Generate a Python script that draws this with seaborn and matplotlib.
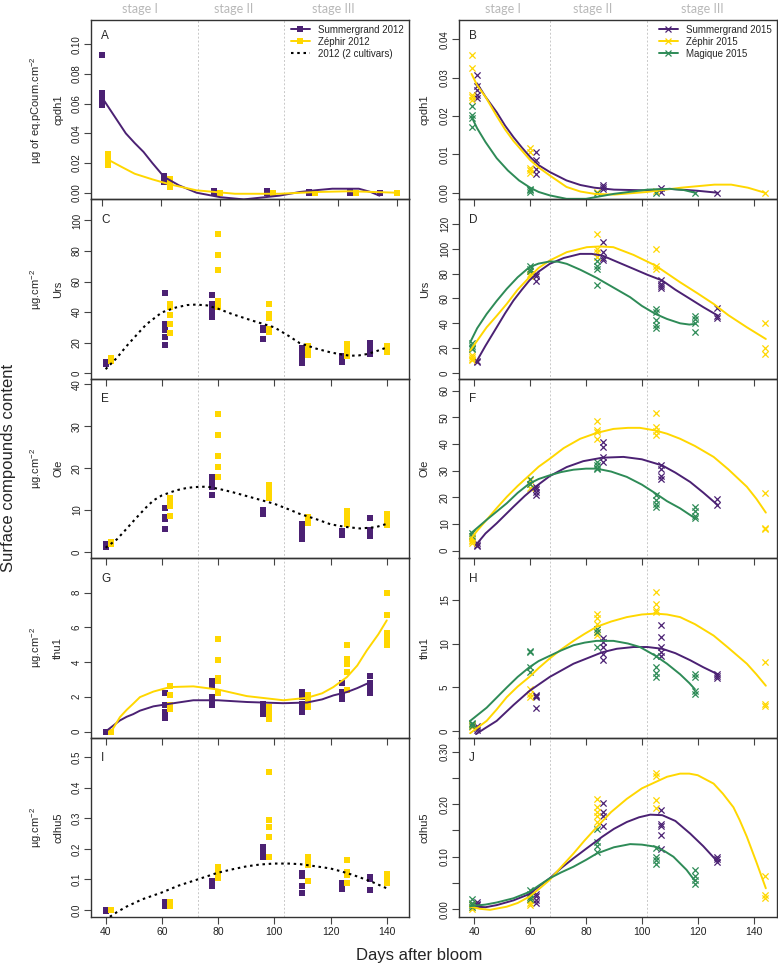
import numpy as np
import pandas as pd
import matplotlib
matplotlib.use("Agg")
import matplotlib.pyplot as plt
import matplotlib.transforms as mtransforms
from matplotlib.lines import Line2D
import seaborn as sns

# ---------------- sampling days ----------------
days_sg12 = [40, 61, 78, 96, 110, 124, 134]
days_ze12 = [42, 63, 80, 98, 112, 126, 140]
days_sg15 = [41, 62, 86, 107, 127]
days_ze15 = [39, 60, 84, 105, 144]
days_ma15 = [39, 60, 84, 105, 119]

# ---------------- cpdh1 ----------------
cpdh1_sg12 = [[0.093, 0.067, 0.063, 0.061, 0.059], [0.011, 0.010, 0.009, 0.008, 0.007],
              [0.001, 0.0], [0.001, 0.0], [0.0003, 0.0], [0.001, 0.0], [0.0, -0.0005]]
cpdh1_ze12 = [[0.026, 0.024, 0.022, 0.021, 0.019], [0.009, 0.008, 0.006, 0.005, 0.004],
              [0.0, 0.0], [0.0], [0.0], [0.0], [0.0]]
cpdh1_sg12_fit_x = [40, 42, 44, 46, 48, 51, 54, 57, 61, 66, 72, 80, 88, 100, 107, 113, 118, 127, 131, 134]
cpdh1_sg12_fit_y = [0.064, 0.058, 0.052, 0.046, 0.040, 0.0335, 0.0275, 0.020, 0.0106, 0.005, 0.0,
                    -0.003, -0.0045, -0.002, 0.0005, 0.0018, 0.0027, 0.0027, 0.0005, -0.002]
cpdh1_ze12_fit_x = [42, 46, 51, 57, 63, 72, 85, 100, 113, 124, 140]
cpdh1_ze12_fit_y = [0.0223, 0.018, 0.0128, 0.009, 0.0056, 0.0016, -0.0007, -0.0007, 0.0005, 0.001, 0.0]

cpdh1_sg15 = [[0.0307, 0.0278, 0.0267, 0.0254, 0.0246], [0.0106, 0.0085, 0.0063, 0.005],
              [0.0021, 0.0015, 0.0009], [0.0012, 0.0002], [0.0]]
cpdh1_ze15 = [[0.036, 0.0325, 0.0255, 0.0241, 0.025], [0.0117, 0.0106, 0.0064, 0.0058, 0.0051],
              [0.0003], [0.0005], [0.0]]
cpdh1_ma15 = [[0.0226, 0.0202, 0.0196, 0.0172], [0.001, 0.0006, 0.0002], [0.0], [0.0], [0.0]]
cpdh1_sg15_fit_x = [41, 44, 48, 51, 54, 57, 60, 63, 67, 73, 78, 83, 90, 102, 110, 120, 127]
cpdh1_sg15_fit_y = [0.0285, 0.025, 0.021, 0.0175, 0.0145, 0.0118, 0.0093, 0.0072, 0.0054, 0.0032,
                    0.002, 0.0013, 0.0008, 0.0006, 0.001, 0.0005, 0.0]
cpdh1_ze15_fit_x = [39, 41, 44, 48, 51, 54, 57, 60, 63, 67, 73, 78, 83, 90, 102, 114, 126, 132, 138, 144]
cpdh1_ze15_fit_y = [0.031, 0.028, 0.025, 0.020, 0.0165, 0.0135, 0.011, 0.0085, 0.0066, 0.0045,
                    0.0015, 0.0003, -0.0003, -0.0005, 0.0002, 0.0013, 0.0021, 0.0021, 0.0013, 0.0]
cpdh1_ma15_fit_x = [39, 41, 44, 48, 52, 56, 60, 63, 67, 73, 80, 90, 102, 110, 115, 119]
cpdh1_ma15_fit_y = [0.0198, 0.0168, 0.0132, 0.009, 0.0058, 0.0032, 0.0013, 0.0002, -0.0007,
                    -0.0016, -0.0016, -0.0003, 0.0008, 0.001, 0.0007, 0.0]

# ---------------- Urs ----------------
urs_sg12 = [[7, 6.5, 6], [52.5, 32.5, 28, 24, 18.5], [51, 45, 43, 40, 36.5], [29.5, 28, 22.5],
            [16.5, 14, 11, 8.5, 6.5], [11.5, 9, 7.5], [20, 17, 15, 12.5]]
urs_ze12 = [[10, 9, 8], [45, 43, 38, 32.5, 26], [91, 77.5, 67.5, 47, 43.5], [45, 39, 36, 29, 27],
            [18, 16, 14, 12], [19, 16.5, 14, 11.5], [17.5, 15.5, 14]]
urs_2012_fit_x = [40, 44, 47, 51, 54.5, 60, 65, 69, 72, 76, 80, 85, 92, 100, 105, 109, 115, 120,
                  124, 127, 130, 133, 136, 140]
urs_2012_fit_y = [2.6, 10, 16.8, 25, 32, 39.8, 43, 44.6, 44.9, 44.4, 42.2, 38.7, 34.5, 30, 24.5,
                  19.7, 16, 13.6, 12.2, 11.4, 11.6, 12.5, 14.2, 16.8]

urs_sg15 = [[10, 9], [80, 78, 74], [105, 97, 92.5, 91], [74.5, 72, 70, 68.5], [52, 46, 44.5]]
urs_ze15 = [[14.5, 13, 11.5, 10.5], [82, 80, 78], [112, 100, 97, 93], [100, 86, 84], [40, 20, 15]]
urs_ma15 = [[24, 22, 20, 19], [86, 84, 82], [90, 86, 84, 71], [51.5, 49, 43, 38.5, 36],
            [46, 43.5, 40, 33]]
urs_sg15_fit_x = [40.6, 44, 48, 51, 54, 57, 59.7, 63, 67, 72, 77.9, 82, 85.8, 91, 97, 102, 107.3,
                  112, 117.3, 122, 127.2]
urs_sg15_fit_y = [8.6, 22, 36.8, 48, 58.3, 67, 74.4, 81.5, 87.8, 92.5, 95.8, 95.8, 94.5, 89.5,
                  83.8, 79, 74.4, 67, 59.6, 53, 46.2]
urs_ze15_fit_x = [38.5, 41, 44.4, 48, 51.6, 55.5, 59.7, 63, 67, 73.1, 80.3, 85, 89.8, 97, 104.9,
                  113.7, 120, 125.7, 131, 137.6, 144.4]
urs_ze15_fit_y = [18, 26, 36.8, 46, 55.6, 67, 77, 84.5, 90.5, 97.2, 101.2, 101.8, 101.2, 95, 86.4,
                  73, 64, 55.6, 46.5, 36.8, 27.4]
urs_ma15_fit_x = [38.5, 41, 44.4, 48, 51.6, 55.5, 59.7, 63, 67, 70, 73.1, 78, 83.8, 90, 95.8,
                  100, 104.9, 109, 113.7, 117, 119]
urs_ma15_fit_y = [24.7, 36, 47.5, 58, 67.7, 77, 85.1, 88, 89.7, 89.5, 87.8, 83, 76.5, 68.5, 61,
                  54, 47.5, 43.5, 40, 39, 39.5]

# ---------------- Ole ----------------
ole_sg12 = [[2, 1.5, 1.2], [10.5, 8.3, 7.8, 5.5], [18, 16.5, 15.5, 13.7], [10, 9.5, 9],
            [6.7, 5.5, 4, 3.2], [5, 4], [8, 5.2, 4.5, 3.8]]
ole_ze12 = [[2.4, 2], [13, 12, 11, 8.5], [33, 28, 22.8, 20.2, 18], [16, 15, 14, 13],
            [8.3, 7.5, 6.8], [9.8, 8.5, 7.5, 6.7], [9, 8, 7, 6.4]]
ole_2012_fit_x = [40, 44, 47, 51, 54.5, 57, 60, 65, 69, 72, 76, 80, 85, 92, 100, 105, 109, 115,
                  120, 125, 130.5, 136, 140]
ole_2012_fit_y = [1.0, 3.0, 5.2, 8.2, 10.7, 12.3, 13.5, 14.7, 15.3, 15.5, 15.6, 15.1, 14.3, 13,
                  11.5, 10.2, 9.1, 7.8, 6.6, 6.0, 5.6, 5.9, 6.7]

ole_sg15 = [[3, 2.2, 1.6], [24, 23, 22, 21], [40.7, 39, 35, 33.3], [32, 30.8, 28, 27], [19.5, 17]]
ole_ze15 = [[4.8, 4, 3.5, 3], [26.5, 25, 23.5], [48.5, 45.3, 44.7, 42], [51.5, 46.5, 45, 43.5],
            [21.7, 8.5, 8]]
ole_ma15 = [[6.5, 5.5], [27, 25], [33.3, 32, 31, 30.5], [21, 19, 17.5, 16.5], [16.5, 15, 13, 12.2]]
ole_sg15_fit_x = [40.6, 44, 48, 54, 58, 61.9, 67, 73.1, 79, 85.8, 93.4, 100, 107.3, 112, 117.3,
                  122, 127.2]
ole_sg15_fit_y = [2.2, 6.5, 10.3, 16.5, 20.5, 24, 28, 31.4, 33.6, 34.9, 35.2, 34.3, 32.0, 29.3,
                  25.8, 21.8, 17.1]
ole_ze15_fit_x = [38.5, 41, 44.4, 48, 51.6, 55.5, 59.7, 63, 67, 72, 77.9, 83.8, 89.8, 95, 99.3,
                  104.9, 109, 113.7, 119, 125.7, 131, 137.6, 141, 144.4]
ole_ze15_fit_y = [4.1, 7.5, 11.6, 16, 20.2, 24.3, 28.3, 31.5, 34.5, 38.5, 42, 44.2, 45.7, 46.1,
                  46.1, 45.1, 43.9, 42, 39.3, 35.2, 30.5, 24, 19.5, 14.3]
ole_ma15_fit_x = [38.5, 44.4, 51.6, 55.5, 59.7, 63, 67, 71, 75.5, 80, 83.8, 89, 94.6, 100,
                  104.9, 109, 113.7, 117, 119]
ole_ma15_fit_y = [6.3, 11.6, 17.8, 21.7, 25.2, 26.9, 28.3, 29.5, 30.4, 30.8, 30.8, 29.7, 27.7,
                  24.8, 21.5, 18.6, 15.9, 13.6, 12.2]

# ---------------- thu1 ----------------
thu1_sg12 = [[0.0, 0.0], [2.2, 1.5, 1.1, 0.8], [2.9, 2.6, 2.0, 1.7, 1.5], [1.6, 1.4, 1.2, 1.0],
             [2.3, 2.0, 1.6, 1.3, 1.1], [2.8, 2.3, 2.1, 1.9], [3.2, 2.8, 2.5, 2.2]]
thu1_ze12 = [[0.0, -0.05], [2.6, 2.1, 1.5, 1.3], [5.3, 4.1, 3.1, 2.9, 2.2], [1.4, 1.1, 0.9, 0.7],
             [2.1, 1.9, 1.6, 1.4], [5.0, 4.2, 3.9, 3.4, 2.4], [8, 6.7, 5.7, 5.3, 5.0]]
thu1_sg12_fit_x = [40, 42, 45, 47.5, 49.8, 52.2, 57, 62.9, 71.2, 79.9, 90.2, 103.2, 111.6, 117,
                   121, 125.8, 129.5, 132.9, 134]
thu1_sg12_fit_y = [0.0, 0.25, 0.63, 0.85, 1.0, 1.2, 1.45, 1.6, 1.8, 1.8, 1.7, 1.63, 1.67, 1.85,
                   2.08, 2.27, 2.5, 2.75, 2.8]
thu1_ze12_fit_x = [42, 43.5, 45.1, 47.5, 49.8, 52.2, 57, 62.9, 71.2, 79.9, 90.2, 103.2, 111.6,
                   117, 121, 125.8, 129.5, 132.9, 137, 140]
thu1_ze12_fit_y = [0.0, 0.4, 0.83, 1.25, 1.6, 1.98, 2.3, 2.56, 2.6, 2.42, 2.04, 1.8, 1.94, 2.2,
                   2.56, 3.13, 3.8, 4.67, 5.6, 6.4]

thu1_sg15 = [[0.6, 0.4, 0.2], [4.2, 4.0, 3.9, 2.7], [10.6, 10.2, 9.6, 8.8, 8.1],
             [12.1, 10.7, 9.6, 9.0, 8.6], [6.5, 6.3, 6.1]]
thu1_ze15 = [[0.9, 0.7, 0.5], [4.8, 4.3, 3.9], [13.3, 12.9, 12.2, 11.3, 11.0],
             [15.8, 14.5, 13.8, 13.6], [7.9, 3.1, 2.9]]
thu1_ma15 = [[1.0, 0.8, 0.6], [9.2, 9.0, 7.3, 6.8], [11.6, 11.3, 9.6], [8.6, 7.3, 6.7, 6.2],
             [6.5, 6.2, 4.6, 4.3]]
thu1_sg15_fit_x = [40.6, 44, 48, 54, 59.7, 67, 75.5, 85.8, 91, 97, 102, 107.3, 112, 117.3, 122, 127.2]
thu1_sg15_fit_y = [-0.3, 0.4, 1.2, 3.0, 4.6, 6.2, 7.7, 9.0, 9.4, 9.6, 9.6, 9.4, 8.9, 8.1, 7.3, 6.5]
thu1_ze15_fit_x = [38.5, 41, 44.4, 48, 51.6, 55.5, 59.7, 63, 67, 71, 75.5, 79.5, 83.8, 89, 94.6,
                   100, 104.9, 109, 113.7, 119, 125.7, 131, 137.6, 141, 144.4]
thu1_ze15_fit_y = [-0.2, 0.4, 1.2, 2.5, 3.9, 5.1, 6.2, 7.2, 8.3, 9.3, 10.3, 11.1, 11.9, 12.5, 13.0,
                   13.3, 13.4, 13.3, 13.0, 12.2, 10.9, 9.5, 7.7, 6.5, 5.2]
thu1_ma15_fit_x = [38.5, 44.4, 51.6, 55.5, 59.7, 63, 67, 71, 75.5, 79.5, 83.8, 89.8, 95, 99.3,
                   104.9, 109, 113.7, 117, 119]
thu1_ma15_fit_y = [1.2, 2.7, 5.0, 6.2, 7.3, 8.0, 8.6, 9.2, 9.8, 10.1, 10.3, 10.3, 10.0, 9.6, 8.6,
                   7.7, 6.5, 5.5, 4.8]

# ---------------- cdhu5 ----------------
cdhu5_sg12 = [[0.0, -0.002], [0.025, 0.02, 0.012], [0.095, 0.085, 0.078], [0.205, 0.185, 0.175],
              [0.12, 0.11, 0.077, 0.057], [0.089, 0.08, 0.068], [0.107, 0.1, 0.067]]
cdhu5_ze12 = [[0.0, 0.0], [0.025, 0.02, 0.012], [0.14, 0.13, 0.12, 0.105],
              [0.45, 0.295, 0.27, 0.24, 0.175], [0.175, 0.16, 0.148, 0.096],
              [0.163, 0.125, 0.114, 0.089], [0.118, 0.11, 0.1, 0.09]]
cdhu5_2012_fit_x = [41.5, 44, 47.4, 53, 59.9, 66, 72.7, 79.9, 85, 90.2, 95, 99.9, 105, 109.2,
                    114, 119.9, 124, 128.2, 134, 140]
cdhu5_2012_fit_y = [-0.022, -0.007, 0.011, 0.035, 0.057, 0.08, 0.1, 0.122, 0.133, 0.143, 0.149,
                    0.152, 0.152, 0.15, 0.144, 0.136, 0.126, 0.114, 0.095, 0.071]

cdhu5_sg15 = [[0.013, 0.01, 0.008], [0.03, 0.025, 0.018, 0.012], [0.203, 0.185, 0.177, 0.158],
              [0.188, 0.163, 0.158, 0.141, 0.115], [0.1, 0.095, 0.09]]
cdhu5_ze15 = [[0.01, 0.005, 0.0], [0.018, 0.012, 0.009], [0.21, 0.194, 0.185, 0.177, 0.166],
              [0.26, 0.254, 0.208, 0.193], [0.064, 0.027, 0.022]]
cdhu5_ma15 = [[0.019, 0.012, 0.008, 0.005], [0.037, 0.03, 0.024, 0.02],
              [0.153, 0.128, 0.121, 0.109], [0.117, 0.1, 0.093, 0.087], [0.074, 0.064, 0.056, 0.048]]
cdhu5_sg15_fit_x = [40.6, 44, 48, 54, 59.7, 63, 67, 71, 75.5, 80, 85.8, 90, 94.6, 99, 103, 107.3,
                    112, 117.3, 122, 127.2]
cdhu5_sg15_fit_y = [0.005, 0.004, 0.008, 0.017, 0.029, 0.043, 0.059, 0.078, 0.097, 0.115, 0.138,
                    0.153, 0.166, 0.175, 0.18, 0.179, 0.168, 0.144, 0.12, 0.09]
cdhu5_ze15_fit_x = [38.5, 42, 45.6, 51.6, 55.5, 59.7, 63, 67, 71, 75.5, 79.5, 83.8, 89, 94.6, 100,
                    104.9, 109, 113.7, 117, 120, 125.7, 129, 132.8, 135, 137.6, 141, 144.4]
cdhu5_ze15_fit_y = [0.005, 0.001, -0.001, 0.005, 0.012, 0.024, 0.038, 0.056, 0.08, 0.106, 0.131,
                    0.156, 0.185, 0.21, 0.23, 0.242, 0.252, 0.258, 0.258, 0.255, 0.239, 0.22,
                    0.194, 0.17, 0.138, 0.09, 0.04]
cdhu5_ma15_fit_x = [38.5, 44, 48, 54, 59.7, 63, 67, 71, 75.5, 80, 83.8, 90, 95.8, 100, 104.9,
                    108, 111.3, 116, 119]
cdhu5_ma15_fit_y = [0.006, 0.009, 0.013, 0.021, 0.033, 0.045, 0.059, 0.07, 0.081, 0.094, 0.106,
                    0.118, 0.124, 0.123, 0.119, 0.111, 0.1, 0.075, 0.054]

# stage boundaries / label positions (days)
stage_lines_12 = [72.7, 103.5]
stage_lines_15 = [67.0, 101.9]
stage_lab_12 = [52.2, 85.7, 120.9]
stage_lab_15 = [50.3, 82.2, 121.6]
stage_names = ["stage I", "stage II", "stage III"]

PURPLE = "#4b2173"
YELLOW = "#ffd700"
GREEN = "#2e8b57"

sns.set_style("ticks")
plt.rcParams["font.family"] = ["Liberation Sans", "DejaVu Sans"]
plt.rcParams["mathtext.fontset"] = "custom"
plt.rcParams["mathtext.rm"] = "Liberation Sans"
plt.rcParams["mathtext.default"] = "regular"

W, H = 778, 963
fig = plt.figure(figsize=(W / 100, H / 100), dpi=100)
fig.patch.set_facecolor("white")

row_edges = np.linspace(20, 917, 6)
col_edges = [(91, 409), (459, 777)]


def px_box(x0, x1, y0, y1):
    return [x0 / W, 1 - y1 / H, (x1 - x0) / W, (y1 - y0) / H]


def long_df(days, reps, name):
    rows = [(d, v, name) for d, vs in zip(days, reps) for v in vs]
    return pd.DataFrame(rows, columns=["day", "value", "cultivar"])


def draw_points(ax, days, reps, color, marker):
    df = long_df(days, reps, "x")
    if marker == "s":
        sns.scatterplot(data=df, x="day", y="value", color=color, marker="s", s=22,
                        linewidth=0, legend=False, ax=ax, zorder=3)
    else:
        sns.scatterplot(data=df, x="day", y="value", color=color, marker="x", s=20,
                        linewidth=0.9, legend=False, ax=ax, zorder=3)


def draw_fit(ax, xs, ys, color, dotted=False):
    if dotted:
        sns.lineplot(x=xs, y=ys, color="black", lw=1.5, sort=False,
                     estimator=None, ax=ax, zorder=4)
        ax.lines[-1].set_dashes((1.2, 1.8))
    else:
        sns.lineplot(x=xs, y=ys, color=color, lw=1.4, sort=False, estimator=None, ax=ax, zorder=4)


panels = [
    # letter, col, row, unit, name, ylim, ticks, ticklabels
    ("A", 0, 0, r"µg of eq.pCoum.cm$^{-2}$", "cpdh1", (-0.0045, 0.1164),
     [0, 0.02, 0.04, 0.06, 0.08, 0.10], ["0.00", "0.02", "0.04", "0.06", "0.08", "0.10"]),
    ("B", 1, 0, None, "cpdh1", (-0.00175, 0.04505),
     [0, 0.01, 0.02, 0.03, 0.04], ["0.00", "0.01", "0.02", "0.03", "0.04"]),
    ("C", 0, 1, r"µg.cm$^{-2}$", "Urs", (-3.7, 113.8),
     [0, 20, 40, 60, 80, 100], ["0", "20", "40", "60", "80", "100"]),
    ("D", 1, 1, None, "Urs", (-4.6, 139.6),
     [0, 20, 40, 60, 80, 100, 120], ["0", "20", "40", "60", "80", "100", "120"]),
    ("E", 0, 2, r"µg.cm$^{-2}$", "Ole", (-1.5, 41.36),
     [0, 10, 20, 30, 40], ["0", "10", "20", "30", "40"]),
    ("F", 1, 2, None, "Ole", (-2.8, 64.5),
     [0, 10, 20, 30, 40, 50, 60], ["0", "10", "20", "30", "40", "50", "60"]),
    ("G", 0, 3, r"µg.cm$^{-2}$", "thu1", (-0.35, 9.98),
     [0, 2, 4, 6, 8], ["0", "2", "4", "6", "8"]),
    ("H", 1, 3, None, "thu1", (-0.7, 19.7),
     [0, 5, 10, 15], ["0", "5", "10", "15"]),
    ("I", 0, 4, r"µg.cm$^{-2}$", "cdhu5", (-0.0228, 0.564),
     [0, 0.1, 0.2, 0.3, 0.4, 0.5], ["0.0", "0.1", "0.2", "0.3", "0.4", "0.5"]),
    ("J", 1, 4, None, "cdhu5", (-0.0146, 0.3265),
     [0, 0.05, 0.10, 0.15, 0.20, 0.25, 0.30], ["0.00", "", "0.10", "", "0.20", "", "0.30"]),
]

axes = {}
for letter, c, r, unit, name, ylim, yt, ytl in panels:
    x0, x1 = col_edges[c]
    ax = fig.add_axes(px_box(x0, x1, row_edges[r], row_edges[r + 1]))
    ax.set_facecolor("none")
    axes[letter] = ax
    ax.text(10 / (x1 - x0), 1 - (10 if r == 0 else 14.5) / 179.4, letter, transform=ax.transAxes,
            ha="left", va="top", fontsize=8.5)
    yc = 1 - (row_edges[r] + row_edges[r + 1]) / 2 / H
    if c == 0:
        fig.text(36 / W, yc, unit, rotation=90, ha="center", va="center", fontsize=8)
        fig.text(58 / W, yc, name, rotation=90, ha="center", va="center", fontsize=8)
    else:
        fig.text(425 / W, yc, name, rotation=90, ha="center", va="center", fontsize=8)

# ---- panel contents ----
ax = axes["A"]
draw_points(ax, days_sg12, cpdh1_sg12, PURPLE, "s")
draw_points(ax, days_ze12, cpdh1_ze12, YELLOW, "s")
draw_fit(ax, cpdh1_sg12_fit_x, cpdh1_sg12_fit_y, PURPLE)
draw_fit(ax, cpdh1_ze12_fit_x, cpdh1_ze12_fit_y, YELLOW)

for letter, sg, ze, fx, fy in [("C", urs_sg12, urs_ze12, urs_2012_fit_x, urs_2012_fit_y),
                               ("E", ole_sg12, ole_ze12, ole_2012_fit_x, ole_2012_fit_y),
                               ("I", cdhu5_sg12, cdhu5_ze12, cdhu5_2012_fit_x, cdhu5_2012_fit_y)]:
    ax = axes[letter]
    draw_points(ax, days_sg12, sg, PURPLE, "s")
    draw_points(ax, days_ze12, ze, YELLOW, "s")
    draw_fit(ax, fx, fy, "black", dotted=True)

ax = axes["G"]
draw_points(ax, days_sg12, thu1_sg12, PURPLE, "s")
draw_points(ax, days_ze12, thu1_ze12, YELLOW, "s")
draw_fit(ax, thu1_sg12_fit_x, thu1_sg12_fit_y, PURPLE)
draw_fit(ax, thu1_ze12_fit_x, thu1_ze12_fit_y, YELLOW)

right = [
    ("B", cpdh1_sg15, cpdh1_ze15, cpdh1_ma15,
     (cpdh1_sg15_fit_x, cpdh1_sg15_fit_y), (cpdh1_ze15_fit_x, cpdh1_ze15_fit_y), (cpdh1_ma15_fit_x, cpdh1_ma15_fit_y)),
    ("D", urs_sg15, urs_ze15, urs_ma15,
     (urs_sg15_fit_x, urs_sg15_fit_y), (urs_ze15_fit_x, urs_ze15_fit_y), (urs_ma15_fit_x, urs_ma15_fit_y)),
    ("F", ole_sg15, ole_ze15, ole_ma15,
     (ole_sg15_fit_x, ole_sg15_fit_y), (ole_ze15_fit_x, ole_ze15_fit_y), (ole_ma15_fit_x, ole_ma15_fit_y)),
    ("H", thu1_sg15, thu1_ze15, thu1_ma15,
     (thu1_sg15_fit_x, thu1_sg15_fit_y), (thu1_ze15_fit_x, thu1_ze15_fit_y), (thu1_ma15_fit_x, thu1_ma15_fit_y)),
    ("J", cdhu5_sg15, cdhu5_ze15, cdhu5_ma15,
     (cdhu5_sg15_fit_x, cdhu5_sg15_fit_y), (cdhu5_ze15_fit_x, cdhu5_ze15_fit_y), (cdhu5_ma15_fit_x, cdhu5_ma15_fit_y)),
]
for letter, sg, ze, ma, fsg, fze, fma in right:
    ax = axes[letter]
    draw_points(ax, days_sg15, sg, PURPLE, "x")
    draw_points(ax, days_ze15, ze, YELLOW, "x")
    draw_points(ax, days_ma15, ma, GREEN, "x")
    draw_fit(ax, *fsg, PURPLE)
    draw_fit(ax, *fze, YELLOW)
    draw_fit(ax, *fma, GREEN)

# ---- axes styling (after seaborn, which sets its own labels) ----
for letter, c, r, unit, name, ylim, yt, ytl in panels:
    ax = axes[letter]
    if letter == "A":
        ax.set_xlim(36.2, 144.0)
    elif c == 0:
        ax.set_xlim(34.8, 147.9)
    else:
        ax.set_xlim(34.5, 148.4)
    ax.set_ylim(*ylim)
    ax.set_xticks([40, 60, 80, 100, 120, 140])
    ax.set_yticks(yt)
    ax.set_yticklabels(ytl, rotation=90, va="center")
    ax.tick_params(axis="both", direction="out", length=5, width=0.8, color="#444444",
                   labelcolor="#222222", pad=1.5)
    ax.tick_params(axis="y", labelsize=7)
    ax.tick_params(axis="x", labelsize=7.5, pad=2)
    if r < 4:
        ax.tick_params(labelbottom=False)
    for sp in ax.spines.values():
        sp.set_visible(True)
        sp.set_color("#333333")
        sp.set_linewidth(1.0)
    ax.set_xlabel("")
    ax.set_ylabel("")

# ---- legends ----
leg_kw = dict(loc="upper right", fontsize=7, frameon=True, framealpha=1, facecolor="white",
              edgecolor="none", handlelength=1.9, handletextpad=0.9, labelspacing=0.2,
              borderpad=0.3, borderaxespad=0.2)
h12 = [Line2D([], [], color=PURPLE, lw=1.4, marker="s", markersize=4, markeredgewidth=0),
       Line2D([], [], color=YELLOW, lw=1.4, marker="s", markersize=4, markeredgewidth=0),
       Line2D([], [], color="black", lw=1.5, dashes=(1.2, 1.8))]
axes["A"].legend(h12, ["Summergrand 2012", "Zéphir 2012", "2012 (2 cultivars)"], **leg_kw)
h15 = [Line2D([], [], color=PURPLE, lw=1.4, marker="x", markersize=4.5, markeredgewidth=0.9),
       Line2D([], [], color=YELLOW, lw=1.4, marker="x", markersize=4.5, markeredgewidth=0.9),
       Line2D([], [], color=GREEN, lw=1.4, marker="x", markersize=4.5, markeredgewidth=0.9)]
axes["B"].legend(h15, ["Summergrand 2015", "Zéphir 2015", "Magique 2015"], **leg_kw)

# ---- stage lines and labels (drawn across the whole column) ----
y_lo = 1 - 917 / H
y_hi = 1 - 20 / H
for ax_ref, lines, labs in [(axes["I"], stage_lines_12, stage_lab_12),
                            (axes["J"], stage_lines_15, stage_lab_15)]:
    tr = mtransforms.blended_transform_factory(ax_ref.transData, fig.transFigure)
    for d in lines:
        fig.add_artist(Line2D([d, d], [y_lo, y_hi], transform=tr, color="#c8c8c8", lw=0.7,
                              ls=(0, (2, 2)), zorder=-1))
    for d, s in zip(labs, stage_names):
        fig.text(d, 1 - 9 / H, s, transform=tr, ha="center", va="center", fontsize=9,
                 color="#b8b8b8", family=["Lato", "DejaVu Sans"])

fig.text(9 / W, 1 - 468 / H, "Surface compounds content", rotation=90, ha="center",
         va="center", fontsize=12)
fig.text(419 / W, 1 - 960 / H, "Days after bloom", ha="center", va="baseline", fontsize=12)

fig.savefig("out.png", dpi=100)
